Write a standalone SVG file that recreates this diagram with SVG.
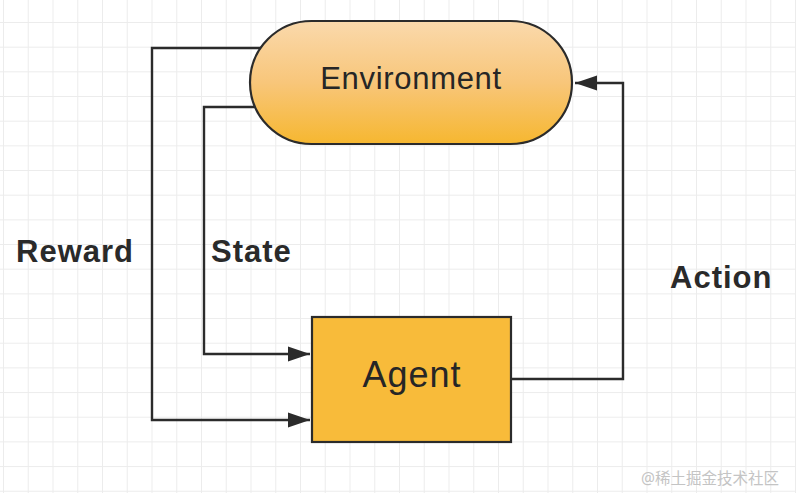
<svg xmlns="http://www.w3.org/2000/svg" width="796" height="493" viewBox="0 0 796 493">
  <defs>
    <pattern id="grid" x="3" y="-2.67" width="24.75" height="24.67" patternUnits="userSpaceOnUse">
      <path d="M0,0 V24.67 M0,0 H24.75" fill="none" stroke="#ececec" stroke-width="2"/>
    </pattern>
    <linearGradient id="envGrad" x1="0" y1="0" x2="0" y2="1">
      <stop offset="0" stop-color="#FAD9AC"/>
      <stop offset="0.5" stop-color="#F8C67A"/>
      <stop offset="1" stop-color="#F6B730"/>
    </linearGradient>
    <marker id="arrow" markerUnits="userSpaceOnUse" markerWidth="23" markerHeight="16" refX="22" refY="8" orient="auto">
      <path d="M0,0.5 L22,8 L0,15.5 z" fill="#2b2b2b"/>
    </marker>
    <style>
      .conn { fill: none; stroke: #2b2b2b; stroke-width: 2.4; }
      .label { font-family: "Liberation Sans", Arial, sans-serif; font-weight: bold; font-size: 31px; fill: #2a2a2a; letter-spacing: 1px; }
      .nodeText { font-family: "Liberation Sans", Arial, sans-serif; fill: #262626; text-anchor: middle; }
    </style>
  </defs>

  <rect x="0" y="0" width="796" height="493" fill="#ffffff"/>
  <rect x="0" y="0" width="796" height="493" fill="url(#grid)"/>

  <g id="connectors">
    <path id="reward" class="conn" d="M261,48 H152 V420 H310" marker-end="url(#arrow)"/>
    <path id="state" class="conn" d="M256,107 H204 V354 H310" marker-end="url(#arrow)"/>
    <path id="action" class="conn" d="M511,379 H623 V83 H575" marker-end="url(#arrow)"/>
  </g>

  <g id="environment">
    <rect x="250" y="21" width="322" height="123" rx="61.5" ry="61.5" fill="url(#envGrad)" stroke="#2b2b2b" stroke-width="2.2"/>
    <text class="nodeText" x="411" y="89" font-size="31" letter-spacing="0.7">Environment</text>
  </g>

  <g id="agent">
    <rect x="312" y="317" width="199" height="125" fill="#F8BB3A" stroke="#2b2b2b" stroke-width="2.2"/>
    <text class="nodeText" x="412" y="387" font-size="36" letter-spacing="1">Agent</text>
  </g>

  <g id="labels">
    <text class="label" x="16" y="262">Reward</text>
    <text class="label" x="211" y="262">State</text>
    <text class="label" x="670" y="288">Action</text>
  </g>

  <text x="641" y="484" font-family="'Noto Sans', 'Noto Sans CJK SC', sans-serif" font-size="15.5" fill="#c4c4c4">@稀土掘金技术社区</text>
</svg>
